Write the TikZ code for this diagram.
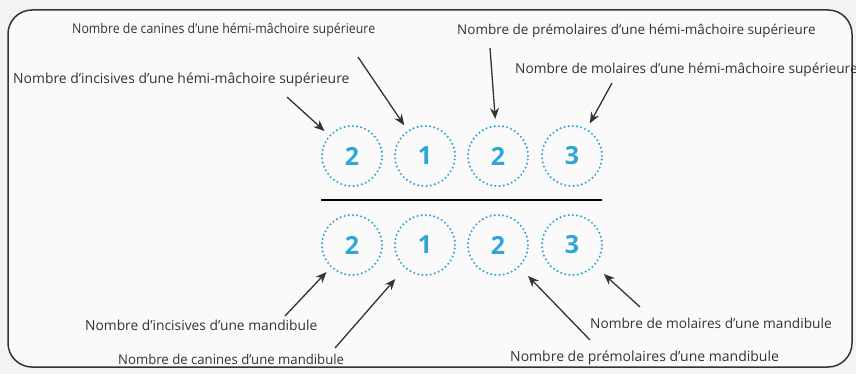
\documentclass[tikz,border=0pt]{standalone}
\usepackage{fontspec}
\setmainfont{Open Sans}
\usetikzlibrary{arrows.meta}
\definecolor{cyanish}{HTML}{2EA6D6}
\definecolor{bg}{HTML}{F3F3F2}
\definecolor{ink}{HTML}{333333}
\newcommand{\fs}[1]{\fontsize{#1}{#1}\selectfont}
\tikzset{
  lab/.style={anchor=west, inner sep=0pt, text=ink},
  tooth/.style={circle, minimum size=60pt, inner sep=0pt, draw=cyanish, line width=2.3pt,
    dash pattern=on 0pt off 4.2pt, line cap=round, text=cyanish,
    font=\fontsize{25}{26}\selectfont\bfseries},
  arr/.style={draw=ink, line width=1.3pt, -{Stealth[length=11pt,width=9pt]}, shorten >=6pt},
}
\begin{document}
\begin{tikzpicture}[x=1pt,y=-1pt]
\useasboundingbox (0,0) rectangle (856,374);
\fill[bg] (0,0) rectangle (856,374);
\draw[ink, line width=1.5pt, rounded corners=24pt, fill=white!60!bg] (8,10) rectangle (852,367);
% circles
\node[tooth] (u1) at (352,156) {2};
\node[tooth] (u2) at (425,156) {1};
\node[tooth] (u3) at (498,156) {2};
\node[tooth] (u4) at (572,156) {3};
\node[tooth] (l1) at (352,245) {2};
\node[tooth] (l2) at (425,245) {1};
\node[tooth] (l3) at (498,245) {2};
\node[tooth] (l4) at (572,245) {3};
\coordinate (ba) at (321,200);
\coordinate (bb) at (602,200);
\draw[black, line width=2.2pt] (ba) -- (bb);
% labels
\node[lab, font=\fs{13.5}] (canS) at (72,30) {\scalebox{0.915}[1]{Nombre de canines d’une hémi-mâchoire supérieure}};
\node[lab, font=\fs{13.9}] (incS) at (13,80) {Nombre d’incisives d’une hémi-mâchoire supérieure};
\node[lab, font=\fs{13.5}] (preS) at (457,31) {Nombre de prémolaires d’une hémi-mâchoire supérieure};
\node[lab, font=\fs{13.7}] (molS) at (515,70) {Nombre de molaires d’une hémi-mâchoire supérieure};
\node[lab, font=\fs{13.8}] (incM) at (85,325) {Nombre d’incisives d’une mandibule};
\node[lab, font=\fs{13.5}] (canM) at (118,359) {\scalebox{0.975}[1]{Nombre de canines d’une mandibule}};
\node[lab, font=\fs{13.7}] (molM) at (590,323) {Nombre de molaires d’une mandibule};
\node[lab, font=\fs{14}] (preM) at (510,358) {Nombre de prémolaires d’une mandibule};
% arrow starts
\coordinate (s1) at (287,97);
\coordinate (s2) at (358,57);
\coordinate (s3) at (490,48);
\coordinate (s4) at (612,83);
\coordinate (t1) at (285,316);
\coordinate (t2) at (335,348);
\coordinate (t3) at (590,340);
\coordinate (t4) at (640,307);
\draw[arr] (s1) -- (u1);
\draw[arr] (s2) -- (u2);
\draw[arr] (s3) -- (u3);
\draw[arr] (s4) -- (u4);
\draw[arr] (t1) -- (l1);
\draw[arr, shorten >=14pt] (t2) -- (l2);
\draw[arr, shorten >=12pt] (t3) -- (l3);
\draw[arr, shorten >=12pt] (t4) -- (l4);
\end{tikzpicture}
\end{document}
